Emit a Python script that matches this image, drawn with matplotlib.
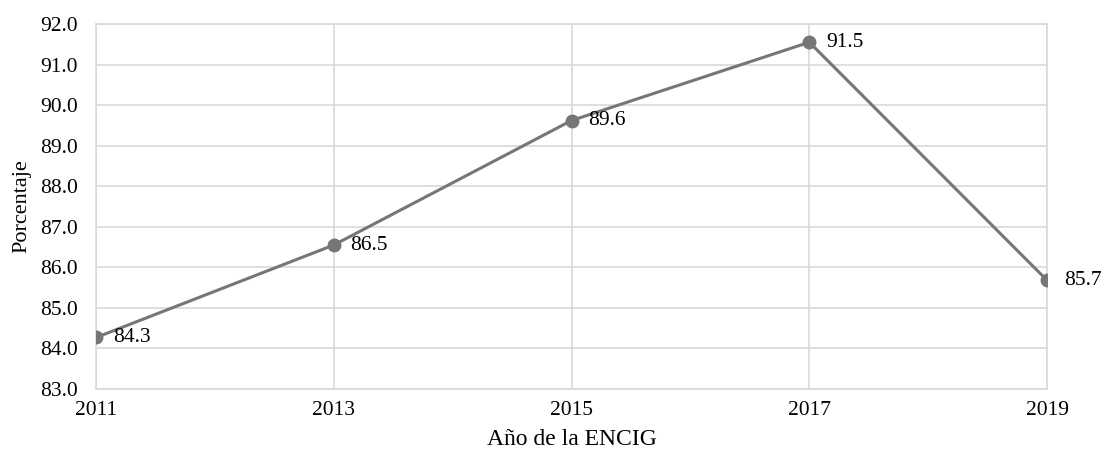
import matplotlib.pyplot as plt

plt.rcParams['font.family'] = ['Liberation Serif', 'DejaVu Serif']

years = ['2011', '2013', '2015', '2017', '2019']
values = [84.27, 86.55, 89.62, 91.55, 85.68]
labels = ['84.3', '86.5', '89.6', '91.5', '85.7']
yticks = [83.0, 84.0, 85.0, 86.0, 87.0, 88.0, 89.0, 90.0, 91.0, 92.0]

grid_c = '#d9d9d9'
line_c = '#767676'

fig = plt.figure(figsize=(11.06, 4.57), dpi=100)
ax = fig.add_axes([0.0868, 0.1488, 0.8599, 0.7987])

x = list(range(len(years)))
ax.plot(x, values, color=line_c, lw=2.2, marker='o', markersize=9, zorder=3)
for xi, v, lab in zip(x, values, labels):
    ax.annotate(lab, (xi, v), xytext=(12, 0), textcoords='offset points',
                va='center', ha='left', fontsize=15.5)

ax.set_xlim(0, len(years) - 1)
ax.set_ylim(83, 92)
ax.set_xticks(x)
ax.set_xticklabels(years, fontsize=15.5)
ax.set_yticks(yticks)
ax.set_yticklabels([f'{t:.1f}' for t in yticks], fontsize=15.5)
ax.grid(True, color=grid_c, lw=1.2, zorder=0)
for s in ax.spines.values():
    s.set_color(grid_c)
    s.set_linewidth(1.2)
ax.tick_params(length=0)
ax.tick_params(axis='y', pad=13)
ax.tick_params(axis='x', pad=9)
ax.set_xlabel('Año de la ENCIG', fontsize=17, labelpad=6)
ax.set_ylabel('Porcentaje', fontsize=16, labelpad=6)
ax.set_axisbelow(True)

fig.savefig('out.png', dpi=100)
